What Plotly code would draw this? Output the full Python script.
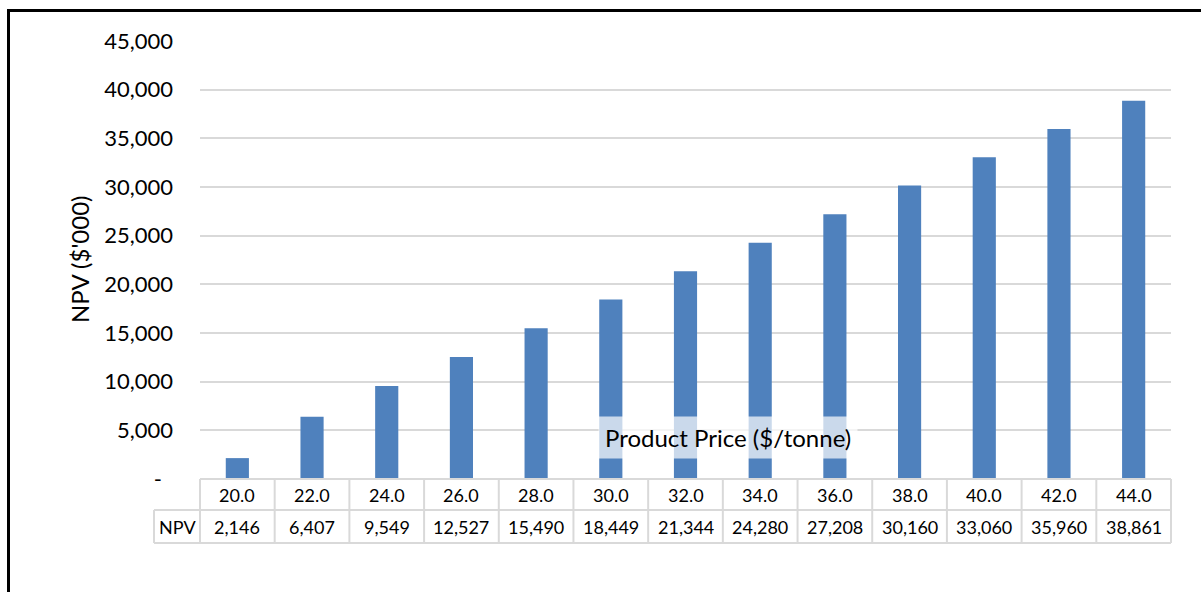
import plotly.graph_objects as go

# Product price sensitivity of NPV
prices = ["20.0", "22.0", "24.0", "26.0", "28.0", "30.0", "32.0",
          "34.0", "36.0", "38.0", "40.0", "42.0", "44.0"]
npv = [2146, 6407, 9549, 12527, 15490, 18449, 21344,
       24280, 27208, 30160, 33060, 35960, 38861]
y_ticks = [0, 5000, 10000, 15000, 20000, 25000, 30000, 35000, 40000, 45000]
y_tick_text = ["-\u2002", "5,000", "10,000", "15,000", "20,000", "25,000",
               "30,000", "35,000", "40,000", "45,000"]

FONT = "Lato"
W, H = 1201, 592
ML, MR, MT, MB = 200, 30, 41, 113
PW, PH = W - ML - MR, H - MT - MB


def px_x(p):
    return (p - ML) / PW


def px_y(p):
    return (H - MB - p) / PH


fig = go.Figure(go.Bar(
    x=prices, y=npv, marker=dict(color="#4f81bd", line=dict(width=0)),
    hoverinfo="x+y",
))

grid = "#d9d9d9"
shapes = []
annotations = []


def label(text, x, y, size, **kw):
    annotations.append(dict(text=text, x=x, y=y, xref="paper", yref="paper",
                            xanchor="center", yanchor="middle", showarrow=False,
                            font=dict(family=FONT, size=size, color="black"), **kw))


# data table under the plot
n = len(prices)
row_top, row_mid, row_bot = px_y(479), px_y(510), px_y(543)
shapes.append(dict(type="line", xref="paper", yref="paper", x0=0, x1=1,
                   y0=row_top, y1=row_top, line=dict(color=grid, width=2)))
for yy in (row_mid, row_bot):
    shapes.append(dict(type="line", xref="paper", yref="paper", x0=px_x(154), x1=1,
                       y0=yy, y1=yy, line=dict(color=grid, width=2)))
shapes.append(dict(type="line", xref="paper", yref="paper", x0=px_x(154), x1=px_x(154),
                   y0=row_mid, y1=row_bot, line=dict(color=grid, width=2)))
for i in range(n + 1):
    shapes.append(dict(type="line", xref="paper", yref="paper", x0=i / n, x1=i / n,
                       y0=row_top, y1=row_bot, line=dict(color=grid, width=2)))
for i, (p, v) in enumerate(zip(prices, npv)):
    xc = (i + 0.5) / n
    label(p, xc, (row_top + row_mid) / 2, 18)
    label(f"{v:,}", xc, (row_mid + row_bot) / 2, 18)
label("NPV", px_x(177), (row_mid + row_bot) / 2, 18)

# axis titles
label("NPV ($'000)", px_x(79), 0.5, 24, textangle=-90)
label("Product Price ($/tonne)", px_x(728), px_y(437), 24,
      bgcolor="rgba(255,255,255,0.7)", borderpad=6)

# frame
shapes.append(dict(type="line", xref="paper", yref="paper", x0=px_x(8.5), x1=px_x(8.5),
                   y0=px_y(9), y1=px_y(600), line=dict(color="black", width=3)))
shapes.append(dict(type="line", xref="paper", yref="paper", x0=px_x(7), x1=px_x(1210),
                   y0=px_y(10.5), y1=px_y(10.5), line=dict(color="black", width=3)))

fig.update_layout(
    width=W, height=H,
    margin=dict(l=ML, r=MR, t=MT, b=MB),
    paper_bgcolor="white", plot_bgcolor="white",
    bargap=0.69, showlegend=False,
    shapes=shapes, annotations=annotations,
    xaxis=dict(type="category", showticklabels=False, showgrid=False,
               zeroline=False, showline=False, ticks=""),
    yaxis=dict(range=[0, 45000], tickvals=y_ticks, ticktext=y_tick_text,
               showgrid=True, gridcolor=grid, gridwidth=1.5, zeroline=False,
               showline=False, ticks="", ticklabelstandoff=26,
               tickfont=dict(family=FONT, size=22, color="black")),
)

fig.write_html("out.html")
